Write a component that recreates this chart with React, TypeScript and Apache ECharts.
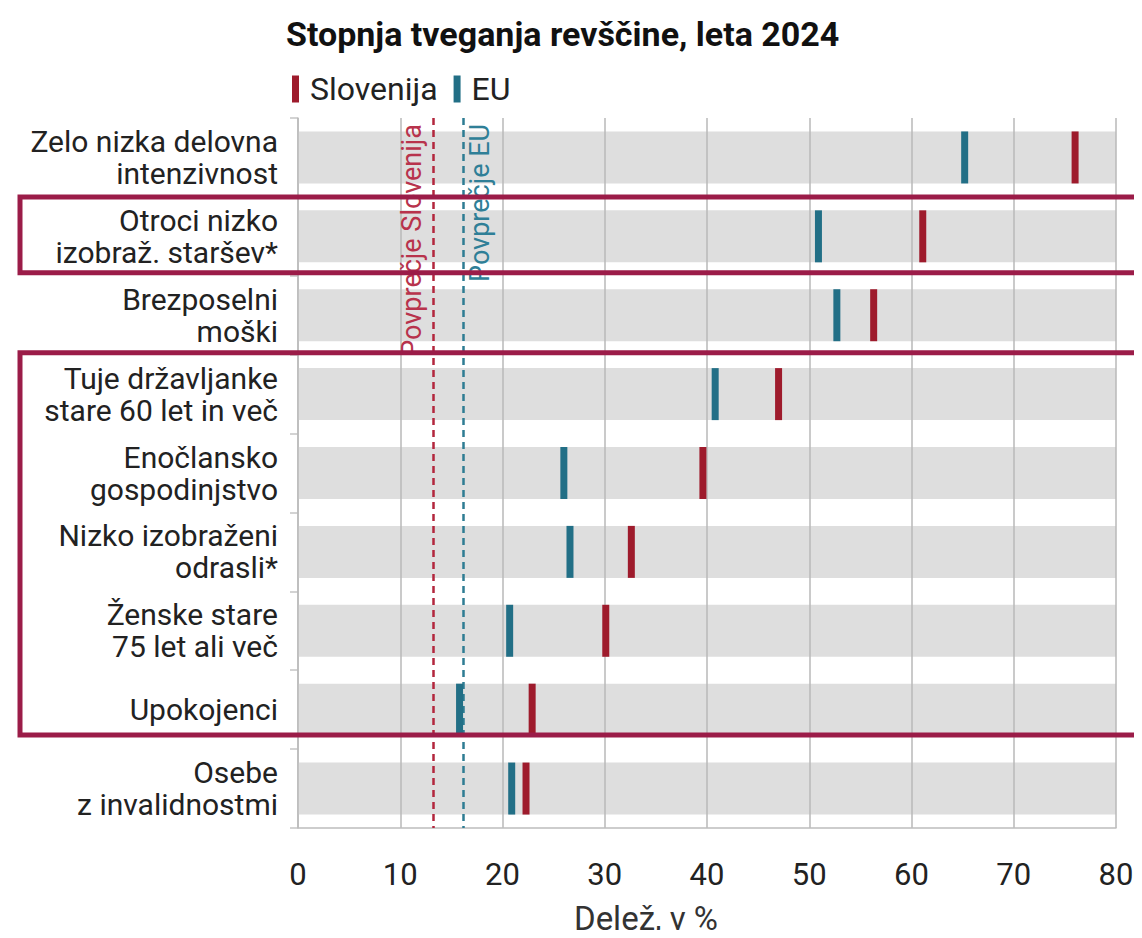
import React, { useEffect, useRef } from "react";
import * as echarts from "echarts";

const categories = [
  "Zelo nizka delovna\nintenzivnost",
  "Otroci nizko\nizobraž. staršev*",
  "Brezposelni\nmoški",
  "Tuje državljanke\nstare 60 let in več",
  "Enočlansko\ngospodinjstvo",
  "Nizko izobraženi\nodrasli*",
  "Ženske stare\n75 let ali več",
  "Upokojenci",
  "Osebe\nz invalidnostmi",
];
const sloveniaValues = [76.0, 61.1, 56.3, 47.0, 39.6, 32.6, 30.1, 22.9, 22.3];
const euValues = [65.2, 50.9, 52.7, 40.8, 26.0, 26.6, 20.7, 15.8, 20.9];
const bandValues = [80, 80, 80, 80, 80, 80, 80, 80, 80];
const averageSlovenia = 13.2;
const averageEU = 16.2;
const seriesNames = ["Slovenija", "EU"];
const avgLabels = ["Povprečje Slovenija", "Povprečje EU"];

const FONT = "Roboto, 'Noto Sans', sans-serif";
const RED = "#9e1b2c";
const TEAL = "#226f86";
const BOX = "#9b1c48";

export default function App() {
  const ref = useRef<HTMLDivElement>(null);
  useEffect(() => {
    if (!ref.current) return;
    const chart = echarts.init(ref.current, null, { renderer: "svg" });
    const option: any = {
      animation: false,
      backgroundColor: "#ffffff",
      textStyle: { fontFamily: FONT },
      title: {
        text: "Stopnja tveganja revščine, leta 2024",
        left: 281,
        top: 12,
        textStyle: { fontFamily: FONT, fontSize: 34, fontWeight: "bold", color: "#111" },
      },
      legend: {
        left: 287,
        top: 68,
        itemWidth: 7,
        itemHeight: 27,
        itemGap: 16,
        data: seriesNames.map((n) => ({ name: n, icon: "rect" })),
        textStyle: { fontFamily: FONT, fontSize: 32, color: "#222", padding: [0, 0, 0, 6] },
      },
      grid: {
        left: 298,
        right: 26,
        top: 118,
        bottom: 110,
        containLabel: false,
        outerBoundsMode: "none",
      },
      xAxis: {
        type: "value",
        min: 0,
        max: 80,
        interval: 10,
        z: 3,
        name: "Delež, v %",
        nameLocation: "middle",
        nameGap: 74,
        nameTextStyle: { fontFamily: FONT, fontSize: 33, color: "#333", padding: [0, 122, 0, 0] },
        axisLine: { show: true, lineStyle: { color: "#bdbdbd", width: 1.5 } },
        axisTick: { show: false },
        axisLabel: { fontFamily: FONT, fontSize: 31, color: "#222", margin: 31 },
        splitLine: { show: true, lineStyle: { color: "#b8b8b8", width: 1.5 } },
      },
      yAxis: {
        type: "category",
        inverse: true,
        data: categories,
        axisLine: { show: true, lineStyle: { color: "#c4c4c4", width: 1.5 } },
        axisTick: { show: true, length: 8, lineStyle: { color: "#c4c4c4", width: 1.5 } },
        axisLabel: {
          fontFamily: FONT,
          fontSize: 30,
          lineHeight: 32,
          color: "#222",
          margin: 20,
          align: "right",
        },
        splitLine: { show: false },
      },
      series: [
        {
          type: "bar",
          name: "band",
          data: bandValues,
          barWidth: 52,
          silent: true,
          z: 1,
          itemStyle: { color: "#dedede" },
        },
        {
          type: "scatter",
          name: seriesNames[0],
          data: sloveniaValues.map((v, i) => [v, i]),
          symbol: "rect",
          symbolSize: [7, 52],
          z: 6,
          itemStyle: { color: RED, opacity: 1 },
          markLine: {
            silent: true,
            symbol: "none",
            label: { show: false },
            lineStyle: { color: "#b3263d", type: [7, 5], width: 2.5 },
            data: [{ xAxis: averageSlovenia }],
          },
        },
        {
          type: "scatter",
          name: seriesNames[1],
          data: euValues.map((v, i) => [v, i]),
          symbol: "rect",
          symbolSize: [7, 52],
          z: 6,
          itemStyle: { color: TEAL, opacity: 1 },
          markLine: {
            silent: true,
            symbol: "none",
            label: { show: false },
            lineStyle: { color: "#2e7c93", type: [7, 5], width: 2.5 },
            data: [{ xAxis: averageEU }],
          },
        },
      ],
    };
    chart.setOption(option);

    const xSi = chart.convertToPixel({ xAxisIndex: 0 }, averageSlovenia) as number;
    const xEu = chart.convertToPixel({ xAxisIndex: 0 }, averageEU) as number;
    const yB1 = chart.convertToPixel({ yAxisIndex: 0 }, 1) as number;
    const yB3 = chart.convertToPixel({ yAxisIndex: 0 }, 3) as number;
    const yB7 = chart.convertToPixel({ yAxisIndex: 0 }, 7) as number;
    const step = (chart.convertToPixel({ yAxisIndex: 0 }, 1) as number) - (chart.convertToPixel({ yAxisIndex: 0 }, 0) as number);

    chart.setOption({
      graphic: [
        {
          type: "text",
          x: xSi - 21,
          y: 124,
          rotation: Math.PI / 2,
          z: 10,
          style: {
            text: avgLabels[0],
            fontFamily: FONT,
            fontSize: 27,
            fill: "#b8334c",
            align: "right",
            verticalAlign: "middle",
          },
        },
        {
          type: "text",
          x: xEu + 16,
          y: 124,
          rotation: Math.PI / 2,
          z: 10,
          style: {
            text: avgLabels[1],
            fontFamily: FONT,
            fontSize: 27,
            fill: "#2f7f97",
            align: "right",
            verticalAlign: "middle",
          },
        },
        {
          type: "rect",
          z: 20,
          shape: { x: 20, y: yB1 - step / 2, width: 1200, height: step - 3 },
          style: { fill: "none", stroke: BOX, lineWidth: 5 },
        },
        {
          type: "rect",
          z: 20,
          shape: { x: 20, y: yB3 - step / 2 - 2, width: 1200, height: yB7 - yB3 + step - 12 },
          style: { fill: "none", stroke: BOX, lineWidth: 5 },
        },
      ],
    });

    return () => chart.dispose();
  }, []);
  return <div ref={ref} style={{ width: 1142, height: 938, margin: -8 }} />;
}
